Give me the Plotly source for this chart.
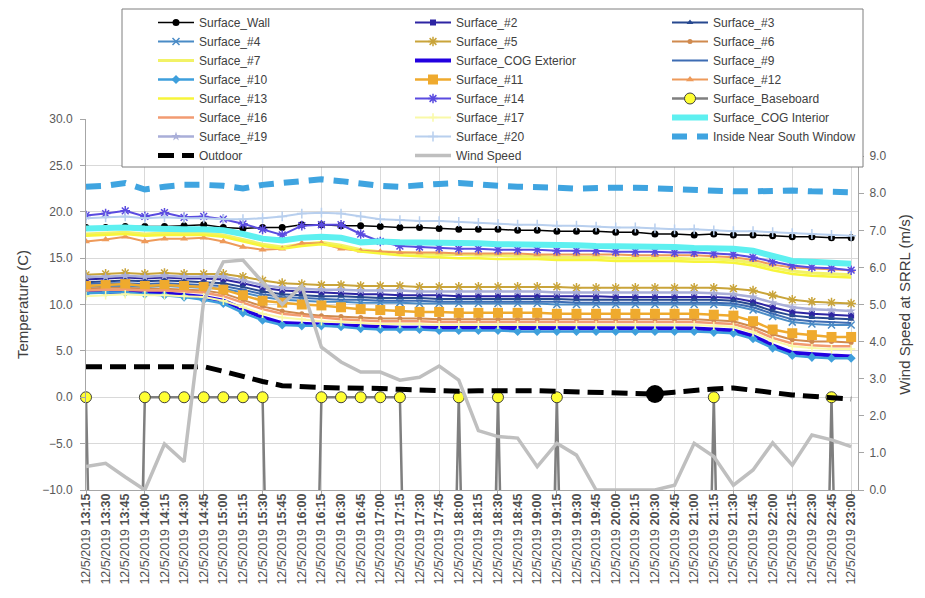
import plotly.graph_objects as go

# ---------------- data ----------------
date_label = "12/5/2019"
times = ["13:15", "13:30", "13:45", "14:00", "14:15", "14:30", "14:45", "15:00", "15:15", "15:30",
         "15:45", "16:00", "16:15", "16:30", "16:45", "17:00", "17:15", "17:30", "17:45", "18:00",
         "18:15", "18:30", "18:45", "19:00", "19:15", "19:30", "19:45", "20:00", "20:15", "20:30",
         "20:45", "21:00", "21:15", "21:30", "21:45", "22:00", "22:15", "22:30", "22:45", "23:00"]

surface_wall = [18.3, 18.3, 18.4, 18.4, 18.4, 18.5, 18.6, 18.3, 18.2, 18.3, 18.3, 18.6, 18.6, 18.5, 18.5, 18.4, 18.3, 18.3, 18.2, 18.1,
                18.1, 18.1, 18.0, 18.0, 17.9, 17.9, 17.9, 17.8, 17.8, 17.6, 17.6, 17.5, 17.6, 17.5, 17.5, 17.4, 17.3, 17.3, 17.2, 17.2]
surface_2 = [12.7, 12.8, 12.9, 12.8, 12.9, 12.8, 12.8, 12.7, 12.3, 11.8, 11.5, 11.4, 11.3, 11.2, 11.1, 11.1, 11.0, 11.0, 11.0, 10.9,
             10.9, 10.9, 10.9, 10.9, 10.9, 10.9, 10.9, 10.8, 10.8, 10.8, 10.8, 10.8, 10.8, 10.7, 10.3, 9.7, 9.2, 9.0, 8.9, 8.8]
surface_3 = [12.4, 12.5, 12.6, 12.5, 12.6, 12.5, 12.4, 12.3, 11.9, 11.4, 11.1, 11.0, 10.9, 10.9, 10.8, 10.7, 10.7, 10.7, 10.6, 10.6,
             10.6, 10.6, 10.6, 10.6, 10.6, 10.5, 10.5, 10.5, 10.5, 10.5, 10.5, 10.5, 10.5, 10.4, 10.0, 9.3, 8.8, 8.6, 8.5, 8.4]
surface_4 = [11.9, 12.0, 12.0, 11.9, 12.0, 11.9, 11.8, 11.7, 11.3, 10.8, 10.5, 10.4, 10.3, 10.3, 10.2, 10.2, 10.2, 10.1, 10.1, 10.1,
             10.1, 10.1, 10.1, 10.1, 10.0, 10.0, 10.0, 10.0, 10.0, 10.0, 10.0, 10.0, 10.0, 9.9, 9.4, 8.7, 8.1, 7.9, 7.8, 7.8]
surface_5 = [13.2, 13.3, 13.4, 13.3, 13.4, 13.3, 13.3, 13.3, 13.0, 12.6, 12.3, 12.2, 12.1, 12.1, 12.0, 12.0, 12.0, 11.9, 11.9, 11.9,
             11.9, 11.9, 11.9, 11.9, 11.9, 11.8, 11.8, 11.8, 11.8, 11.8, 11.8, 11.8, 11.8, 11.7, 11.5, 11.0, 10.5, 10.3, 10.2, 10.1]
surface_6 = [11.7, 11.8, 11.8, 11.7, 11.7, 11.6, 11.5, 11.2, 10.5, 9.8, 9.3, 9.0, 8.8, 8.7, 8.6, 8.5, 8.5, 8.5, 8.4, 8.4,
             8.4, 8.4, 8.4, 8.4, 8.4, 8.4, 8.4, 8.4, 8.4, 8.4, 8.4, 8.4, 8.3, 8.2, 7.6, 6.8, 6.2, 6.0, 6.0, 5.9]
surface_7 = [17.6, 17.7, 17.8, 17.6, 17.7, 17.7, 17.7, 17.5, 17.0, 16.5, 16.2, 16.5, 16.7, 16.4, 15.9, 15.7, 15.6, 15.5, 15.4, 15.4,
             15.3, 15.3, 15.2, 15.2, 15.1, 15.1, 15.1, 15.0, 15.0, 15.0, 15.0, 14.9, 14.9, 14.8, 14.5, 14.0, 13.6, 13.4, 13.3, 13.2]
surface_cog_exterior = [11.4, 11.4, 11.4, 11.3, 11.2, 11.0, 10.8, 10.4, 9.5, 8.6, 8.0, 7.9, 7.8, 7.7, 7.6, 7.6, 7.5, 7.5, 7.5, 7.5,
                        7.4, 7.4, 7.4, 7.4, 7.4, 7.4, 7.4, 7.4, 7.4, 7.4, 7.4, 7.4, 7.3, 7.2, 6.6, 5.6, 4.8, 4.6, 4.5, 4.4]
surface_9 = [12.2, 12.3, 12.3, 12.2, 12.3, 12.2, 12.1, 12.0, 11.6, 11.1, 10.8, 10.7, 10.6, 10.5, 10.5, 10.4, 10.4, 10.4, 10.3, 10.3,
             10.3, 10.3, 10.3, 10.3, 10.3, 10.2, 10.2, 10.2, 10.2, 10.2, 10.2, 10.2, 10.2, 10.1, 9.7, 9.0, 8.4, 8.2, 8.1, 8.0]
surface_10 = [11.2, 11.3, 11.3, 11.1, 11.0, 10.8, 10.5, 10.1, 9.1, 8.3, 7.8, 7.7, 7.7, 7.6, 7.4, 7.3, 7.3, 7.3, 7.2, 7.2,
              7.2, 7.2, 7.1, 7.1, 7.1, 7.1, 7.1, 7.1, 7.1, 7.1, 7.1, 7.1, 7.0, 6.9, 6.3, 5.3, 4.5, 4.3, 4.2, 4.2]
surface_11 = [12.0, 12.1, 12.2, 12.0, 12.1, 12.0, 11.9, 11.6, 11.0, 10.4, 10.2, 10.0, 9.9, 9.7, 9.5, 9.4, 9.3, 9.2, 9.2, 9.1,
              9.1, 9.1, 9.1, 9.1, 9.0, 9.0, 9.0, 9.0, 9.0, 9.0, 9.0, 9.0, 8.9, 8.8, 8.2, 7.3, 6.9, 6.7, 6.5, 6.5]
surface_12 = [16.8, 17.0, 17.3, 16.8, 17.1, 17.1, 17.2, 16.8, 16.2, 15.9, 16.0, 16.6, 16.6, 16.0, 15.8, 15.7, 15.6, 15.6, 15.6, 15.5,
              15.5, 15.5, 15.5, 15.4, 15.4, 15.4, 15.4, 15.4, 15.3, 15.3, 15.3, 15.3, 15.2, 15.1, 14.8, 14.3, 14.0, 13.9, 13.8, 13.7]
surface_13 = [17.4, 17.5, 17.6, 17.4, 17.5, 17.5, 17.5, 17.3, 16.8, 16.3, 16.0, 16.3, 16.5, 16.2, 15.7, 15.5, 15.3, 15.2, 15.1, 15.0,
              15.0, 14.9, 14.9, 14.9, 14.8, 14.8, 14.8, 14.7, 14.7, 14.7, 14.7, 14.6, 14.6, 14.5, 14.2, 13.7, 13.3, 13.1, 13.0, 12.9]
surface_14 = [19.6, 19.8, 20.1, 19.5, 19.9, 19.4, 19.5, 19.2, 18.7, 18.1, 17.5, 18.5, 18.6, 18.6, 17.6, 16.8, 16.3, 16.2, 16.1, 16.0,
              16.0, 15.9, 15.9, 15.9, 15.8, 15.8, 15.8, 15.7, 15.7, 15.7, 15.6, 15.6, 15.5, 15.4, 15.1, 14.6, 14.2, 14.0, 13.9, 13.7]
surface_baseboard = [0, -99, -99, 0, 0, 0, 0, 0, 0, 0, -99, -99, 0, 0, 0, 0, 0, -99, -99, 0,
                     -99, 0, -99, -99, 0, -99, -99, -99, -99, -99, -99, -99, 0, -99, -99, -99, -99, -99, 0, -99]
surface_16 = [11.5, 11.6, 11.6, 11.5, 11.5, 11.4, 11.3, 10.9, 10.2, 9.5, 9.0, 8.8, 8.6, 8.4, 8.3, 8.2, 8.2, 8.2, 8.1, 8.1,
              8.1, 8.1, 8.1, 8.1, 8.1, 8.1, 8.1, 8.1, 8.1, 8.1, 8.1, 8.1, 8.0, 7.9, 7.3, 6.4, 5.8, 5.6, 5.5, 5.5]
surface_17 = [10.9, 11.0, 11.1, 11.0, 11.0, 10.9, 10.8, 10.4, 9.7, 9.0, 8.6, 8.4, 8.2, 8.1, 8.0, 7.9, 7.9, 7.9, 7.8, 7.8,
              7.8, 7.8, 7.8, 7.8, 7.8, 7.8, 7.8, 7.8, 7.8, 7.8, 7.8, 7.8, 7.7, 7.6, 7.0, 6.1, 5.5, 5.3, 5.2, 5.2]
surface_cog_interior = [18.2, 18.3, 18.3, 18.2, 18.1, 18.1, 18.1, 18.0, 17.6, 17.1, 16.9, 17.2, 17.3, 17.2, 16.7, 16.8, 16.7, 16.7, 16.6, 16.6,
                        16.6, 16.5, 16.5, 16.4, 16.4, 16.4, 16.3, 16.3, 16.2, 16.2, 16.2, 16.1, 16.1, 16.0, 15.8, 15.2, 14.7, 14.6, 14.5, 14.4]
surface_19 = [13.0, 13.0, 13.1, 13.0, 13.1, 13.0, 13.0, 13.0, 12.6, 12.1, 11.8, 11.7, 11.6, 11.6, 11.5, 11.5, 11.5, 11.4, 11.4, 11.4,
              11.4, 11.4, 11.4, 11.4, 11.3, 11.3, 11.3, 11.3, 11.3, 11.3, 11.3, 11.3, 11.2, 11.1, 10.8, 10.2, 9.7, 9.5, 9.4, 9.3]
surface_20 = [19.3, 19.4, 19.5, 19.3, 19.4, 19.3, 19.3, 19.2, 19.2, 19.3, 19.5, 19.8, 19.9, 19.8, 19.5, 19.2, 19.1, 19.0, 19.0, 18.9,
              18.8, 18.7, 18.6, 18.6, 18.5, 18.5, 18.4, 18.3, 18.3, 18.2, 18.1, 18.1, 18.0, 17.9, 17.9, 17.8, 17.7, 17.6, 17.5, 17.4]
inside_near_south_window = [22.7, 22.8, 23.1, 22.4, 22.7, 22.9, 22.9, 22.8, 22.5, 22.9, 23.1, 23.3, 23.5, 23.3, 23.0, 22.8, 22.7, 22.9, 23.0, 23.1,
                            22.9, 22.8, 22.7, 22.7, 22.6, 22.5, 22.6, 22.6, 22.6, 22.5, 22.4, 22.3, 22.3, 22.2, 22.2, 22.3, 22.3, 22.2, 22.2, 22.1]
outdoor = [3.3, 3.3, 3.35, 3.4, 3.35, 3.35, 3.3, 2.8, 2.2, 1.7, 1.25, 1.1, 1.05, 1.0, 1.0, 0.95, 0.85, 0.75, 0.7, 0.65,
           0.7, 0.75, 0.7, 0.7, 0.65, 0.6, 0.5, 0.45, 0.4, 0.35, 0.55, 0.75, 0.9, 1.0, 0.8, 0.5, 0.25, 0.05, -0.05, -0.2]
wind_speed = [0.63, 0.72, 0.35, 0.0, 1.24, 0.76, 5.1, 6.15, 6.2, 5.6, 5.0, 5.5, 3.85, 3.45, 3.18, 3.18, 2.96, 3.04, 3.34, 2.96,
              1.6, 1.44, 1.4, 0.63, 1.26, 0.94, 0.0, 0.0, 0.0, 0.0, 0.13, 1.26, 0.9, 0.13, 0.54, 1.27, 0.67, 1.48, 1.35, 1.17]
highlight_time = "20:30"

temp_ticks = [-10, -5, 0, 5, 10, 15, 20, 25, 30]
wind_ticks = [0, 1, 2, 3, 4, 5, 6, 7, 8, 9]

# ---------------- styling ----------------
FONT = "Liberation Sans, Arial, sans-serif"
AX = "#A6A6A6"
GRID = "#D9D9D9"
TXT = "#404040"

x_pos = list(range(len(times)))
tick_text = [f"{date_label} <b>{t}</b>" for t in times]


def mk(color, width=2, dash="solid", symbol=None, size=6, open_sym=False, mcolor=None, mline=None):
    d = dict(line=dict(color=color, width=width, dash=dash))
    if symbol is None:
        d["mode"] = "lines"
    else:
        d["mode"] = "lines+markers"
        mc = mcolor or color
        if open_sym:
            d["marker"] = dict(symbol=symbol, size=size, color=mc, line=dict(color=mc, width=1.5))
        else:
            d["marker"] = dict(symbol=symbol, size=size, color=mc,
                               line=mline if mline else dict(width=0))
    return d


series = [
    ("Surface_Wall", surface_wall, mk("#000000", 1.5, symbol="circle", size=7)),
    ("Surface_#2", surface_2, mk("#2E25A3", 2, symbol="square", size=6)),
    ("Surface_#3", surface_3, mk("#27488F", 2, symbol="triangle-up", size=6)),
    ("Surface_#4", surface_4, mk("#4A8BC6", 2, symbol="x-thin-open", size=7, open_sym=True)),
    ("Surface_#5", surface_5, mk("#C9A43A", 2, symbol="asterisk-open", size=8, open_sym=True)),
    ("Surface_#6", surface_6, mk("#D08A4E", 2, symbol="circle", size=5)),
    ("Surface_#7", surface_7, mk("#F2F266", 3)),
    ("Surface_COG Exterior", surface_cog_exterior, mk("#2200E0", 4)),
    ("Surface_#9", surface_9, mk("#3D6CB3", 2)),
    ("Surface_#10", surface_10, mk("#3E9FDC", 2.5, symbol="diamond", size=7)),
    ("Surface_#11", surface_11, mk("#EFAA2E", 2.5, symbol="square", size=10)),
    ("Surface_#12", surface_12, mk("#EE9A5A", 2, symbol="triangle-up", size=7)),
    ("Surface_#13", surface_13, mk("#F7F53A", 2.5)),
    ("Surface_#14", surface_14, mk("#5A4BE0", 2, symbol="asterisk-open", size=8, open_sym=True)),
    ("Surface_Baseboard", surface_baseboard, mk("#7F7F7F", 2.5, symbol="circle", size=11, mcolor="#FFFF33",
                                                  mline=dict(color="#404040", width=1))),
    ("Surface_#16", surface_16, mk("#F29B72", 2.5)),
    ("Surface_#17", surface_17, mk("#F9F9A8", 2, symbol="cross-thin-open", size=6, open_sym=True)),
    ("Surface_COG Interior", surface_cog_interior, mk("#5EF0F0", 6)),
    ("Surface_#19", surface_19, mk("#A9AED8", 2.5, symbol="star", size=7)),
    ("Surface_#20", surface_20, mk("#B8CFEE", 2, symbol="cross-thin-open", size=7, open_sym=True)),
    ("Inside Near South Window", inside_near_south_window, mk("#3FA4E0", 6, dash="15px,10px")),
    ("Outdoor", outdoor, mk("#000000", 5, dash="16px,8px")),
    ("Wind Speed", wind_speed, mk("#BFBFBF", 3.5)),
]

legend_ids = ["legend", "legend2", "legend3"]

fig = go.Figure()
for k, (name, vals, st) in enumerate(series):
    is_wind = name == "Wind Speed"
    tr = go.Scatter(
        x=x_pos, y=vals, name=name, mode=st["mode"], line=st["line"],
        marker=st.get("marker"), legend=legend_ids[k % 3],
        xaxis="x2" if is_wind else "x", yaxis="y2" if is_wind else "y",
        cliponaxis=(name != "Surface_Baseboard"), hoverinfo="skip",
    )
    fig.add_trace(tr)
    if name == "Outdoor":
        hi = times.index(highlight_time)
        fig.add_trace(go.Scatter(x=[x_pos[hi]], y=[vals[hi]], mode="markers", showlegend=False,
                                 marker=dict(color="#000000", size=18), hoverinfo="skip"))

# The page body adds an 8px offset; the figure is sized so it fills the 925x598 window.
OFF = 8
W, H = 925 - OFF, 598 - OFF
ml = 86 - OFF
mt = 119 - OFF
mr = W - (858 - OFF)
mb = H - (490 - OFF)
pw, ph = W - ml - mr, H - mt - mb


def px_x(p):  # window pixel -> paper x
    return (p - OFF - ml) / pw


def px_y(p):  # window pixel -> paper y
    return (H - mb - (p - OFF)) / ph


fig.add_shape(type="rect", xref="paper", yref="paper", x0=px_x(122), x1=px_x(863), y0=px_y(167), y1=px_y(9),
              line=dict(color="#7F7F7F", width=1), fillcolor="white", layer="above")

leg_common = dict(orientation="v", xanchor="left", yanchor="top", y=px_y(OFF), bgcolor="rgba(0,0,0,0)",
                  borderwidth=0, font=dict(size=12, color=TXT, family=FONT), itemwidth=36,
                  tracegroupgap=0, itemclick=False, itemdoubleclick=False)

x_range = [0, 39.35]
fig.update_layout(
    width=W, height=H,
    margin=dict(l=ml, r=mr, t=mt, b=mb, autoexpand=False),
    paper_bgcolor="white", plot_bgcolor="white",
    font=dict(family=FONT, color=TXT),
    showlegend=True,
    legend=dict(leg_common, x=px_x(153)),
    legend2=dict(leg_common, x=px_x(410)),
    legend3=dict(leg_common, x=px_x(667)),
    xaxis=dict(range=x_range, tickmode="array", tickvals=x_pos[::3], showticklabels=False,
               ticks="outside", ticklen=5, tickcolor=AX, showgrid=True, gridcolor=GRID, gridwidth=1,
               showline=True, linecolor=AX, linewidth=1, zeroline=False, fixedrange=True),
    xaxis2=dict(overlaying="x", anchor="y2", side="bottom", range=x_range, tickmode="array",
                tickvals=x_pos, ticktext=tick_text, tickangle=-90,
                tickfont=dict(size=12.5, color="#505050", family=FONT),
                ticks="", showgrid=False, showline=False, zeroline=False, fixedrange=True),
    yaxis=dict(range=[-10, 30], tickmode="array", tickvals=temp_ticks, tickformat=".1f",
               tickfont=dict(size=12, color="#595959", family=FONT), ticks="outside", ticklen=5,
               tickcolor=AX, ticklabelstandoff=5, showgrid=True, gridcolor=GRID, gridwidth=1,
               showline=True, linecolor=AX, linewidth=1, zeroline=False, fixedrange=True,
               title=dict(text="Temperature (C)", font=dict(size=15, color=TXT, family=FONT), standoff=9)),
    yaxis2=dict(overlaying="y", anchor="x2", side="right", range=[0, 10], tickmode="array",
                tickvals=wind_ticks, tickformat=".1f",
                tickfont=dict(size=12, color="#595959", family=FONT), ticks="outside", ticklen=5,
                tickcolor=AX, ticklabelstandoff=3, showgrid=False, showline=True, linecolor=AX,
                linewidth=1, zeroline=False, fixedrange=True,
                title=dict(text="Wind Speed at SRRL (m/s)", font=dict(size=15, color=TXT, family=FONT),
                           standoff=14)),
)

fig.write_html("out.html")
